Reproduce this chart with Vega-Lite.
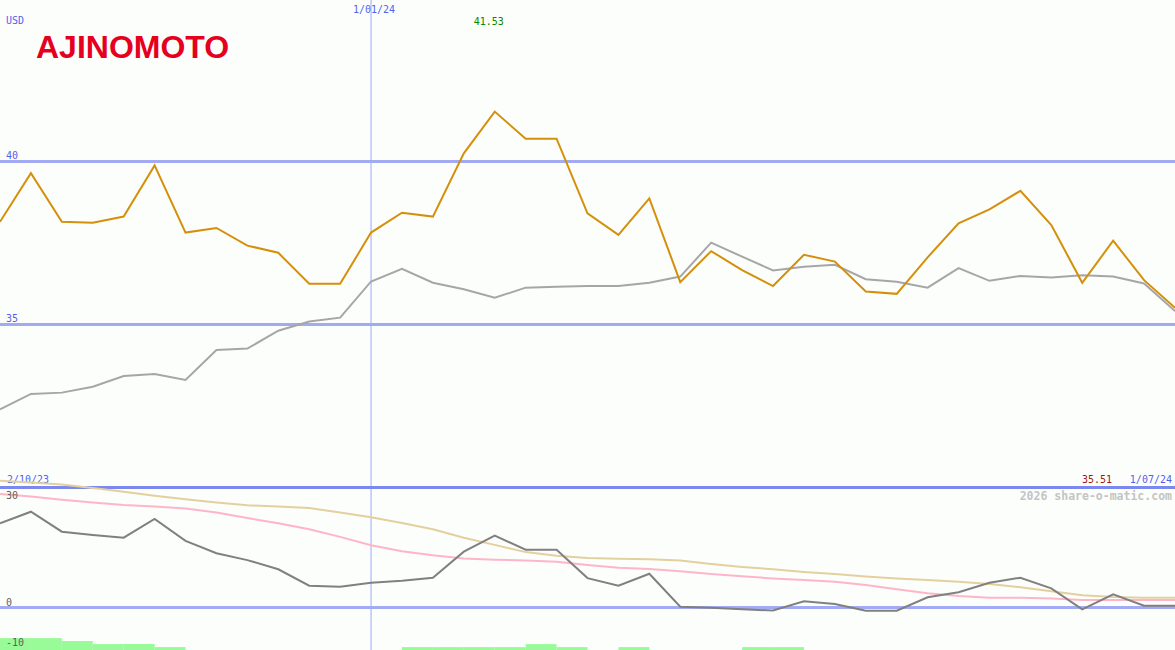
{
  "$schema": "https://vega.github.io/schema/vega-lite/v6.json",
  "width": 1175,
  "height": 650,
  "padding": 0,
  "autosize": {"type": "none"},
  "background": "#fcfefc",
  "config": {"view": {"stroke": null}},
  "datasets": {
    "prices": [
      {"d": "2023-10-09", "price": 38.15, "avg": 32.40},
      {"d": "2023-10-16", "price": 39.64, "avg": 32.87},
      {"d": "2023-10-23", "price": 38.15, "avg": 32.91},
      {"d": "2023-10-30", "price": 38.12, "avg": 33.09},
      {"d": "2023-11-06", "price": 38.31, "avg": 33.42},
      {"d": "2023-11-13", "price": 39.88, "avg": 33.48},
      {"d": "2023-11-20", "price": 37.82, "avg": 33.30},
      {"d": "2023-11-27", "price": 37.96, "avg": 34.22},
      {"d": "2023-12-04", "price": 37.42, "avg": 34.26},
      {"d": "2023-12-11", "price": 37.20, "avg": 34.81},
      {"d": "2023-12-18", "price": 36.25, "avg": 35.09},
      {"d": "2023-12-25", "price": 36.25, "avg": 35.21},
      {"d": "2024-01-01", "price": 37.82, "avg": 36.32},
      {"d": "2024-01-08", "price": 38.43, "avg": 36.71},
      {"d": "2024-01-15", "price": 38.31, "avg": 36.28},
      {"d": "2024-01-22", "price": 40.25, "avg": 36.08},
      {"d": "2024-01-29", "price": 41.53, "avg": 35.82},
      {"d": "2024-02-05", "price": 40.70, "avg": 36.13},
      {"d": "2024-02-12", "price": 40.70, "avg": 36.16},
      {"d": "2024-02-19", "price": 38.41, "avg": 36.18},
      {"d": "2024-02-26", "price": 37.75, "avg": 36.18},
      {"d": "2024-03-04", "price": 38.87, "avg": 36.28},
      {"d": "2024-03-11", "price": 36.30, "avg": 36.47},
      {"d": "2024-03-18", "price": 37.25, "avg": 37.51},
      {"d": "2024-03-25", "price": 36.67, "avg": 37.08},
      {"d": "2024-04-01", "price": 36.18, "avg": 36.66},
      {"d": "2024-04-08", "price": 37.14, "avg": 36.77},
      {"d": "2024-04-15", "price": 36.93, "avg": 36.83},
      {"d": "2024-04-22", "price": 36.01, "avg": 36.39},
      {"d": "2024-04-29", "price": 35.94, "avg": 36.31},
      {"d": "2024-05-06", "price": 37.06, "avg": 36.13},
      {"d": "2024-05-13", "price": 38.10, "avg": 36.73},
      {"d": "2024-05-20", "price": 38.53, "avg": 36.34},
      {"d": "2024-05-27", "price": 39.10, "avg": 36.49},
      {"d": "2024-06-03", "price": 38.05, "avg": 36.44},
      {"d": "2024-06-10", "price": 36.28, "avg": 36.51},
      {"d": "2024-06-17", "price": 37.57, "avg": 36.47},
      {"d": "2024-06-24", "price": 36.36, "avg": 36.26},
      {"d": "2024-07-01", "price": 35.51, "avg": 35.41}
    ],
    "ind": [
      {"d": "2023-10-09", "osc": 21.1, "fast": 28.4, "slow": 31.75},
      {"d": "2023-10-16", "osc": 24.0, "fast": 27.8, "slow": 31.3},
      {"d": "2023-10-23", "osc": 19.0, "fast": 27.0, "slow": 30.8},
      {"d": "2023-10-30", "osc": 18.2, "fast": 26.3, "slow": 29.9},
      {"d": "2023-11-06", "osc": 17.5, "fast": 25.7, "slow": 29.0},
      {"d": "2023-11-13", "osc": 22.2, "fast": 25.3, "slow": 28.0},
      {"d": "2023-11-20", "osc": 16.7, "fast": 24.8, "slow": 27.1},
      {"d": "2023-11-27", "osc": 13.6, "fast": 23.8, "slow": 26.3},
      {"d": "2023-12-04", "osc": 11.9, "fast": 22.4, "slow": 25.6},
      {"d": "2023-12-11", "osc": 9.6, "fast": 21.1, "slow": 25.3},
      {"d": "2023-12-18", "osc": 5.5, "fast": 19.6, "slow": 24.9},
      {"d": "2023-12-25", "osc": 5.25, "fast": 17.7, "slow": 23.8},
      {"d": "2024-01-01", "osc": 6.25, "fast": 15.6, "slow": 22.6},
      {"d": "2024-01-08", "osc": 6.75, "fast": 14.1, "slow": 21.2},
      {"d": "2024-01-15", "osc": 7.5, "fast": 13.1, "slow": 19.6},
      {"d": "2024-01-22", "osc": 14.0, "fast": 12.3, "slow": 17.5},
      {"d": "2024-01-29", "osc": 18.0, "fast": 12.0, "slow": 15.7},
      {"d": "2024-02-05", "osc": 14.5, "fast": 11.8, "slow": 13.9},
      {"d": "2024-02-12", "osc": 14.5, "fast": 11.5, "slow": 13.0},
      {"d": "2024-02-19", "osc": 7.4, "fast": 10.7, "slow": 12.4},
      {"d": "2024-02-26", "osc": 5.5, "fast": 10.0, "slow": 12.25},
      {"d": "2024-03-04", "osc": 8.5, "fast": 9.65, "slow": 12.1},
      {"d": "2024-03-11", "osc": 0.25, "fast": 9.1, "slow": 11.8},
      {"d": "2024-03-18", "osc": 0.0, "fast": 8.45, "slow": 10.95},
      {"d": "2024-03-25", "osc": -0.4, "fast": 7.85, "slow": 10.2},
      {"d": "2024-04-01", "osc": -0.7, "fast": 7.3, "slow": 9.6},
      {"d": "2024-04-08", "osc": 1.6, "fast": 6.9, "slow": 8.95},
      {"d": "2024-04-15", "osc": 0.9, "fast": 6.5, "slow": 8.45},
      {"d": "2024-04-22", "osc": -0.75, "fast": 5.7, "slow": 7.8},
      {"d": "2024-04-29", "osc": -0.75, "fast": 4.6, "slow": 7.3},
      {"d": "2024-05-06", "osc": 2.6, "fast": 3.6, "slow": 6.95},
      {"d": "2024-05-13", "osc": 3.85, "fast": 2.9, "slow": 6.5},
      {"d": "2024-05-20", "osc": 6.25, "fast": 2.5, "slow": 5.9},
      {"d": "2024-05-27", "osc": 7.5, "fast": 2.5, "slow": 5.1},
      {"d": "2024-06-03", "osc": 4.85, "fast": 2.3, "slow": 4.1},
      {"d": "2024-06-10", "osc": -0.4, "fast": 1.9, "slow": 3.1},
      {"d": "2024-06-17", "osc": 3.35, "fast": 1.9, "slow": 2.7},
      {"d": "2024-06-24", "osc": 0.5, "fast": 1.9, "slow": 2.5},
      {"d": "2024-07-01", "osc": 0.5, "fast": 1.9, "slow": 2.5}
    ],
    "bars": [
      {"d": "2023-10-09", "d2": "2023-10-16", "v": -7.6},
      {"d": "2023-10-16", "d2": "2023-10-23", "v": -7.6},
      {"d": "2023-10-23", "d2": "2023-10-30", "v": -8.35},
      {"d": "2023-10-30", "d2": "2023-11-06", "v": -9.1},
      {"d": "2023-11-06", "d2": "2023-11-13", "v": -9.1},
      {"d": "2023-11-13", "d2": "2023-11-20", "v": -9.85},
      {"d": "2024-01-08", "d2": "2024-01-15", "v": -9.85},
      {"d": "2024-01-15", "d2": "2024-01-22", "v": -9.85},
      {"d": "2024-01-22", "d2": "2024-01-29", "v": -9.85},
      {"d": "2024-01-29", "d2": "2024-02-05", "v": -9.85},
      {"d": "2024-02-05", "d2": "2024-02-12", "v": -9.1},
      {"d": "2024-02-12", "d2": "2024-02-19", "v": -9.85},
      {"d": "2024-02-26", "d2": "2024-03-04", "v": -9.85},
      {"d": "2024-03-25", "d2": "2024-04-01", "v": -9.85},
      {"d": "2024-04-01", "d2": "2024-04-08", "v": -9.85}
    ]
  },
  "layer": [
    {
      "data": {"name": "prices"},
      "layer": [
        {
          "mark": {"type": "rule", "color": "#a2aaf2", "strokeWidth": 2},
          "encoding": {"y": {"datum": 40, "type": "quantitative", "scale": {"domain": [25.015, 44.954], "nice": false, "zero": false}, "axis": null}}
        },
        {
          "mark": {"type": "rule", "color": "#a2aaf2", "strokeWidth": 2},
          "encoding": {"y": {"datum": 35, "type": "quantitative", "scale": {"domain": [25.015, 44.954], "nice": false, "zero": false}, "axis": null}}
        },
        {
          "data": {"values": [{}]},
          "mark": {"type": "rule", "color": "#9ea8f6", "strokeWidth": 1},
          "encoding": {"x": {"datum": {"year": 2024, "month": 1, "date": 1, "utc": true}, "type": "temporal", "scale": {"type": "utc", "domain": [{"year": 2023, "month": 10, "date": 9, "utc": true}, {"year": 2024, "month": 7, "date": 1, "utc": true}]}, "axis": null}}
        },
        {
          "mark": {"type": "line", "color": "#a6a6a6", "strokeWidth": 2},
          "encoding": {
            "x": {"field": "d", "type": "temporal", "scale": {"type": "utc", "domain": [{"year": 2023, "month": 10, "date": 9, "utc": true}, {"year": 2024, "month": 7, "date": 1, "utc": true}]}, "axis": null},
            "y": {"field": "avg", "type": "quantitative", "scale": {"domain": [25.015, 44.954], "nice": false, "zero": false}, "axis": null}
          }
        },
        {
          "mark": {"type": "line", "color": "#d4900a", "strokeWidth": 2},
          "encoding": {
            "x": {"field": "d", "type": "temporal", "scale": {"type": "utc", "domain": [{"year": 2023, "month": 10, "date": 9, "utc": true}, {"year": 2024, "month": 7, "date": 1, "utc": true}]}, "axis": null},
            "y": {"field": "price", "type": "quantitative", "scale": {"domain": [25.015, 44.954], "nice": false, "zero": false}, "axis": null}
          }
        },
        {
          "data": {"values": [{}]},
          "mark": {"type": "text", "text": "USD", "align": "left", "baseline": "alphabetic", "dx": 6, "font": "DejaVu Sans Mono", "fontSize": 10, "color": "#5262f0"},
          "encoding": {
            "x": {"datum": {"year": 2023, "month": 10, "date": 9, "utc": true}, "type": "temporal", "scale": {"type": "utc", "domain": [{"year": 2023, "month": 10, "date": 9, "utc": true}, {"year": 2024, "month": 7, "date": 1, "utc": true}]}, "axis": null},
            "y": {"datum": 44.21, "type": "quantitative", "scale": {"domain": [25.015, 44.954], "nice": false, "zero": false}, "axis": null}
          }
        },
        {
          "data": {"values": [{}]},
          "mark": {"type": "text", "text": "AJINOMOTO", "align": "left", "baseline": "alphabetic", "dx": 36, "font": "Liberation Sans", "fontSize": 32, "fontWeight": "bold", "color": "#e60020"},
          "encoding": {
            "x": {"datum": {"year": 2023, "month": 10, "date": 9, "utc": true}, "type": "temporal", "scale": {"type": "utc", "domain": [{"year": 2023, "month": 10, "date": 9, "utc": true}, {"year": 2024, "month": 7, "date": 1, "utc": true}]}, "axis": null},
            "y": {"datum": 43.175, "type": "quantitative", "scale": {"domain": [25.015, 44.954], "nice": false, "zero": false}, "axis": null}
          }
        },
        {
          "data": {"values": [{}]},
          "mark": {"type": "text", "text": "40", "align": "left", "baseline": "alphabetic", "dx": 6, "dy": -2, "font": "DejaVu Sans Mono", "fontSize": 10, "color": "#5262f0"},
          "encoding": {
            "x": {"datum": {"year": 2023, "month": 10, "date": 9, "utc": true}, "type": "temporal", "scale": {"type": "utc", "domain": [{"year": 2023, "month": 10, "date": 9, "utc": true}, {"year": 2024, "month": 7, "date": 1, "utc": true}]}, "axis": null},
            "y": {"datum": 40, "type": "quantitative", "scale": {"domain": [25.015, 44.954], "nice": false, "zero": false}, "axis": null}
          }
        },
        {
          "data": {"values": [{}]},
          "mark": {"type": "text", "text": "35", "align": "left", "baseline": "alphabetic", "dx": 6, "dy": -2, "font": "DejaVu Sans Mono", "fontSize": 10, "color": "#5262f0"},
          "encoding": {
            "x": {"datum": {"year": 2023, "month": 10, "date": 9, "utc": true}, "type": "temporal", "scale": {"type": "utc", "domain": [{"year": 2023, "month": 10, "date": 9, "utc": true}, {"year": 2024, "month": 7, "date": 1, "utc": true}]}, "axis": null},
            "y": {"datum": 35, "type": "quantitative", "scale": {"domain": [25.015, 44.954], "nice": false, "zero": false}, "axis": null}
          }
        },
        {
          "data": {"values": [{}]},
          "mark": {"type": "text", "text": "1/01/24", "align": "center", "baseline": "alphabetic", "dx": 3, "font": "DejaVu Sans Mono", "fontSize": 10, "color": "#5262f0"},
          "encoding": {
            "x": {"datum": {"year": 2024, "month": 1, "date": 1, "utc": true}, "type": "temporal", "scale": {"type": "utc", "domain": [{"year": 2023, "month": 10, "date": 9, "utc": true}, {"year": 2024, "month": 7, "date": 1, "utc": true}]}, "axis": null},
            "y": {"datum": 44.56, "type": "quantitative", "scale": {"domain": [25.015, 44.954], "nice": false, "zero": false}, "axis": null}
          }
        },
        {
          "data": {"values": [{}]},
          "mark": {"type": "text", "text": "41.53", "align": "center", "baseline": "alphabetic", "dx": -6, "font": "DejaVu Sans Mono", "fontSize": 10, "color": "#008a00"},
          "encoding": {
            "x": {"datum": {"year": 2024, "month": 1, "date": 29, "utc": true}, "type": "temporal", "scale": {"type": "utc", "domain": [{"year": 2023, "month": 10, "date": 9, "utc": true}, {"year": 2024, "month": 7, "date": 1, "utc": true}]}, "axis": null},
            "y": {"datum": 44.19, "type": "quantitative", "scale": {"domain": [25.015, 44.954], "nice": false, "zero": false}, "axis": null}
          }
        },
        {
          "data": {"values": [{}]},
          "mark": {"type": "text", "text": "2/10/23", "align": "left", "baseline": "alphabetic", "dx": 7, "font": "DejaVu Sans Mono", "fontSize": 10, "color": "#5262f0"},
          "encoding": {
            "x": {"datum": {"year": 2023, "month": 10, "date": 9, "utc": true}, "type": "temporal", "scale": {"type": "utc", "domain": [{"year": 2023, "month": 10, "date": 9, "utc": true}, {"year": 2024, "month": 7, "date": 1, "utc": true}]}, "axis": null},
            "y": {"datum": 30.13, "type": "quantitative", "scale": {"domain": [25.015, 44.954], "nice": false, "zero": false}, "axis": null}
          }
        },
        {
          "data": {"values": [{}]},
          "mark": {"type": "text", "text": "35.51", "align": "right", "baseline": "alphabetic", "dx": -63, "font": "DejaVu Sans Mono", "fontSize": 10, "color": "#a01818"},
          "encoding": {
            "x": {"datum": {"year": 2024, "month": 7, "date": 1, "utc": true}, "type": "temporal", "scale": {"type": "utc", "domain": [{"year": 2023, "month": 10, "date": 9, "utc": true}, {"year": 2024, "month": 7, "date": 1, "utc": true}]}, "axis": null},
            "y": {"datum": 30.13, "type": "quantitative", "scale": {"domain": [25.015, 44.954], "nice": false, "zero": false}, "axis": null}
          }
        },
        {
          "data": {"values": [{}]},
          "mark": {"type": "text", "text": "1/07/24", "align": "right", "baseline": "alphabetic", "dx": -3, "font": "DejaVu Sans Mono", "fontSize": 10, "color": "#5262f0"},
          "encoding": {
            "x": {"datum": {"year": 2024, "month": 7, "date": 1, "utc": true}, "type": "temporal", "scale": {"type": "utc", "domain": [{"year": 2023, "month": 10, "date": 9, "utc": true}, {"year": 2024, "month": 7, "date": 1, "utc": true}]}, "axis": null},
            "y": {"datum": 30.13, "type": "quantitative", "scale": {"domain": [25.015, 44.954], "nice": false, "zero": false}, "axis": null}
          }
        }
      ]
    },
    {
      "data": {"name": "ind"},
      "layer": [
        {
          "data": {"name": "bars"},
          "mark": {"type": "rect", "color": "#98fb98"},
          "encoding": {
            "x": {"field": "d", "type": "temporal", "scale": {"type": "utc", "domain": [{"year": 2023, "month": 10, "date": 9, "utc": true}, {"year": 2024, "month": 7, "date": 1, "utc": true}]}, "axis": null},
            "x2": {"field": "d2"},
            "y": {"field": "v", "type": "quantitative", "scale": {"domain": [-10.575, 151.925], "nice": false, "zero": false}, "axis": null},
            "y2": {"datum": -10.575}
          }
        },
        {
          "mark": {"type": "rule", "color": "#7b88ee", "strokeWidth": 2},
          "encoding": {"y": {"datum": 30, "type": "quantitative", "scale": {"domain": [-10.575, 151.925], "nice": false, "zero": false}, "axis": null}}
        },
        {
          "mark": {"type": "rule", "color": "#a2aaf2", "strokeWidth": 2},
          "encoding": {"y": {"datum": 0, "type": "quantitative", "scale": {"domain": [-10.575, 151.925], "nice": false, "zero": false}, "axis": null}}
        },
        {
          "mark": {"type": "line", "color": "#ffb5c8", "strokeWidth": 2},
          "encoding": {
            "x": {"field": "d", "type": "temporal", "scale": {"type": "utc", "domain": [{"year": 2023, "month": 10, "date": 9, "utc": true}, {"year": 2024, "month": 7, "date": 1, "utc": true}]}, "axis": null},
            "y": {"field": "fast", "type": "quantitative", "scale": {"domain": [-10.575, 151.925], "nice": false, "zero": false}, "axis": null}
          }
        },
        {
          "mark": {"type": "line", "color": "#e4cf9e", "strokeWidth": 2},
          "encoding": {
            "x": {"field": "d", "type": "temporal", "scale": {"type": "utc", "domain": [{"year": 2023, "month": 10, "date": 9, "utc": true}, {"year": 2024, "month": 7, "date": 1, "utc": true}]}, "axis": null},
            "y": {"field": "slow", "type": "quantitative", "scale": {"domain": [-10.575, 151.925], "nice": false, "zero": false}, "axis": null}
          }
        },
        {
          "mark": {"type": "line", "color": "#808080", "strokeWidth": 2},
          "encoding": {
            "x": {"field": "d", "type": "temporal", "scale": {"type": "utc", "domain": [{"year": 2023, "month": 10, "date": 9, "utc": true}, {"year": 2024, "month": 7, "date": 1, "utc": true}]}, "axis": null},
            "y": {"field": "osc", "type": "quantitative", "scale": {"domain": [-10.575, 151.925], "nice": false, "zero": false}, "axis": null}
          }
        },
        {
          "data": {"values": [{}]},
          "mark": {"type": "text", "text": "2026 share-o-matic.com", "align": "right", "baseline": "alphabetic", "dx": -3, "font": "DejaVu Sans Mono", "fontSize": 11.5, "fontWeight": "bold", "color": "#c4c4c4"},
          "encoding": {
            "x": {"datum": {"year": 2024, "month": 7, "date": 1, "utc": true}, "type": "temporal", "scale": {"type": "utc", "domain": [{"year": 2023, "month": 10, "date": 9, "utc": true}, {"year": 2024, "month": 7, "date": 1, "utc": true}]}, "axis": null},
            "y": {"datum": 27.05, "type": "quantitative", "scale": {"domain": [-10.575, 151.925], "nice": false, "zero": false}, "axis": null}
          }
        },
        {
          "data": {"values": [{}]},
          "mark": {"type": "text", "text": "30", "align": "left", "baseline": "alphabetic", "dx": 6, "font": "DejaVu Sans Mono", "fontSize": 10, "color": "#606060"},
          "encoding": {
            "x": {"datum": {"year": 2023, "month": 10, "date": 9, "utc": true}, "type": "temporal", "scale": {"type": "utc", "domain": [{"year": 2023, "month": 10, "date": 9, "utc": true}, {"year": 2024, "month": 7, "date": 1, "utc": true}]}, "axis": null},
            "y": {"datum": 27.1, "type": "quantitative", "scale": {"domain": [-10.575, 151.925], "nice": false, "zero": false}, "axis": null}
          }
        },
        {
          "data": {"values": [{}]},
          "mark": {"type": "text", "text": "0", "align": "left", "baseline": "alphabetic", "dx": 6, "font": "DejaVu Sans Mono", "fontSize": 10, "color": "#606060"},
          "encoding": {
            "x": {"datum": {"year": 2023, "month": 10, "date": 9, "utc": true}, "type": "temporal", "scale": {"type": "utc", "domain": [{"year": 2023, "month": 10, "date": 9, "utc": true}, {"year": 2024, "month": 7, "date": 1, "utc": true}]}, "axis": null},
            "y": {"datum": 0.5, "type": "quantitative", "scale": {"domain": [-10.575, 151.925], "nice": false, "zero": false}, "axis": null}
          }
        },
        {
          "data": {"values": [{}]},
          "mark": {"type": "text", "text": "-10", "align": "left", "baseline": "alphabetic", "dx": 6, "font": "DejaVu Sans Mono", "fontSize": 10, "color": "#606060"},
          "encoding": {
            "x": {"datum": {"year": 2023, "month": 10, "date": 9, "utc": true}, "type": "temporal", "scale": {"type": "utc", "domain": [{"year": 2023, "month": 10, "date": 9, "utc": true}, {"year": 2024, "month": 7, "date": 1, "utc": true}]}, "axis": null},
            "y": {"datum": -9.6, "type": "quantitative", "scale": {"domain": [-10.575, 151.925], "nice": false, "zero": false}, "axis": null}
          }
        }
      ]
    }
  ],
  "resolve": {"scale": {"y": "independent"}}
}
